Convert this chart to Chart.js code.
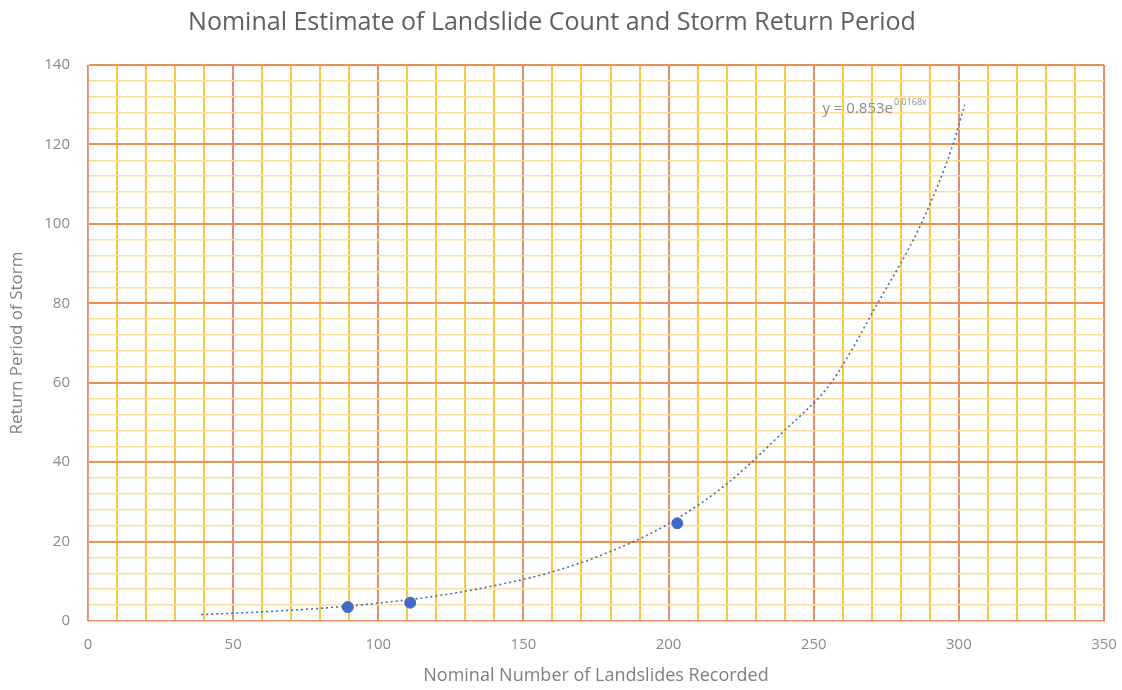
<!DOCTYPE html>
<html>
<head>
<meta charset="utf-8">
<script src="https://cdn.jsdelivr.net/npm/chart.js@4.4.1/dist/chart.umd.min.js"></script>
<style>
  html, body { margin: 0; padding: 0; background: #fff; }
  #wrap { width: 1122px; height: 690px; }
</style>
</head>
<body>
<div id="wrap"><canvas id="chart" width="1122" height="690"></canvas></div>
<script>
// observed storms: landslide count vs return period
const landslides = [89.5, 111, 203];
const returnPeriod = [3.5, 4.6, 24.6];

// exponential trendline
const trendX = [39, 60, 80, 100, 120, 140, 160, 180, 200, 220, 240, 256, 272, 287, 298, 302];
const trendY = [1.6, 2.3, 3.2, 4.5, 6.3, 8.9, 12.4, 17.5, 24.5, 34.5, 48, 60, 80, 100, 120, 130];

const xTicks = [0, 50, 100, 150, 200, 250, 300, 350];
const yTicks = [0, 20, 40, 60, 80, 100, 120, 140];

const trendLabel = "y = 0.853e";
const trendExp = "0.0168x";

const font = "'Open Sans', 'Liberation Sans', sans-serif";

const pts = landslides.map((x, i) => ({ x: x, y: returnPeriod[i] }));
const trend = trendX.map((x, i) => ({ x: x, y: trendY[i] }));

// equation text near the top of the trendline
const equationPlugin = {
  id: "equation",
  afterDatasetsDraw(chart) {
    const ctx = chart.ctx;
    const x = chart.scales.x.getPixelForValue(253);
    const y = chart.scales.y.getPixelForValue(129);
    ctx.save();
    ctx.fillStyle = "#8c8c8c";
    ctx.textBaseline = "middle";
    ctx.font = "15px " + font;
    ctx.fillText(trendLabel, x, y);
    const w = ctx.measureText(trendLabel).width;
    ctx.font = "9px " + font;
    ctx.fillText(trendExp, x + w + 1, y - 6);
    ctx.restore();
  }
};

new Chart(document.getElementById("chart"), {
  type: "scatter",
  data: {
    datasets: [
      {
        label: "Observed",
        data: pts,
        backgroundColor: "#4169c8",
        borderColor: "#4169c8",
        pointRadius: 5.5,
        pointHoverRadius: 5.5,
        order: 1
      },
      {
        label: "Trend",
        data: trend,
        showLine: true,
        borderColor: "#4a6aa8",
        borderWidth: 1.6,
        borderDash: [2, 3],
        pointRadius: 0,
        cubicInterpolationMode: "monotone",
        order: 2
      }
    ]
  },
  options: {
    responsive: false,
    animation: false,
    layout: { padding: { left: 0, right: 18, top: 0, bottom: 0 } },
    plugins: {
      legend: { display: false },
      tooltip: { enabled: false },
      title: {
        display: true,
        text: "Nominal Estimate of Landslide Count and Storm Return Period",
        color: "#5f5f5f",
        font: { family: font, size: 25, weight: "normal" },
        padding: { top: 8, bottom: 27 }
      }
    },
    scales: {
      x: {
        type: "linear",
        min: 0,
        max: 350,
        afterBuildTicks(scale) {
          const t = [];
          for (let v = 0; v <= 350; v += 10) t.push({ value: v });
          scale.ticks = t;
        },
        afterFit(scale) {
          scale.height = 69;
          scale.paddingLeft = 0;
          scale.paddingRight = 0;
        },
        ticks: {
          autoSkip: false,
          maxRotation: 0,
          padding: 15,
          color: "#8a8a8a",
          font: { family: font, size: 15 },
          callback: v => xTicks.includes(v) ? v : ""
        },
        grid: {
          drawTicks: false,
          color: c => c.tick.value % 50 === 0 ? "#e0906a" : "#f6c845",
          lineWidth: 2
        },
        border: { color: "#d5d9e0", width: 1 },
        title: {
          display: true,
          text: "Nominal Number of Landslides Recorded",
          color: "#808080",
          font: { family: font, size: 18 },
          padding: { top: 4, bottom: 3 }
        }
      },
      y: {
        type: "linear",
        min: 0,
        max: 140,
        afterBuildTicks(scale) {
          const t = [];
          for (let v = 0; v <= 140; v += 4) t.push({ value: v });
          scale.ticks = t;
        },
        afterFit(scale) { scale.width = 88; },
        ticks: {
          autoSkip: false,
          padding: 18,
          color: "#8a8a8a",
          font: { family: font, size: 15 },
          callback: v => yTicks.includes(v) ? v : ""
        },
        grid: {
          drawTicks: false,
          color: c => c.tick.value % 20 === 0 ? "#ec8e58" : "#f9dea0",
          lineWidth: c => c.tick.value % 20 === 0 ? 2 : 1.5
        },
        border: { color: "#e8a07a", width: 1 },
        title: {
          display: true,
          text: "Return Period of Storm",
          color: "#808080",
          font: { family: font, size: 17 },
          padding: { top: 7, bottom: 2 }
        }
      }
    }
  },
  plugins: [equationPlugin]
});
</script>
</body>
</html>
